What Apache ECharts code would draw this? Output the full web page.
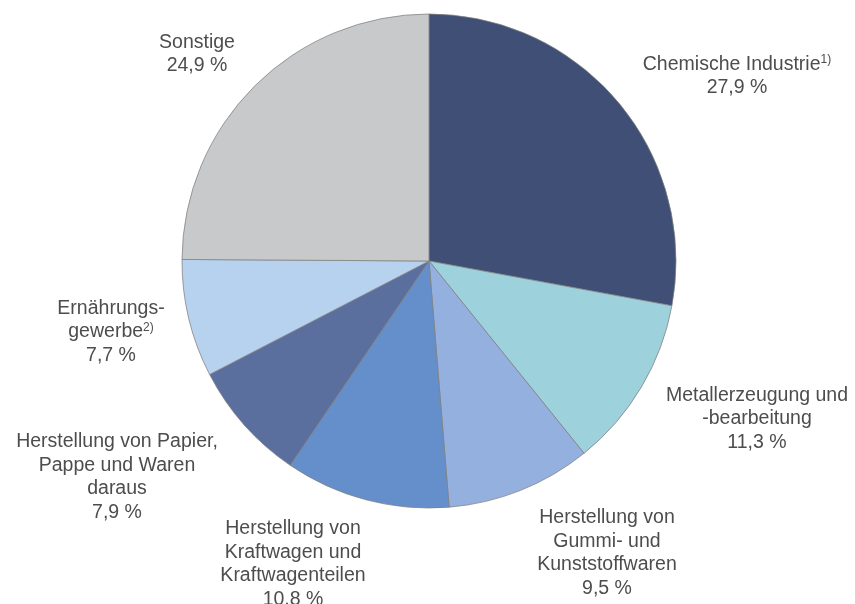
<!DOCTYPE html>
<html>
<head>
<meta charset="utf-8">
<script src="https://cdn.jsdelivr.net/npm/echarts@6/dist/echarts.min.js"></script>
<style>html,body{margin:0;padding:0;background:#fff}#c{width:855px;height:604px}</style>
</head>
<body>
<div id="c"></div>
<script>
const categories = [
  'Chemische Industrie{sup|1)}',
  'Metallerzeugung und\n-bearbeitung',
  'Herstellung von\nGummi- und\nKunststoffwaren',
  'Herstellung von\nKraftwagen und\nKraftwagenteilen',
  'Herstellung von Papier,\nPappe und Waren\ndaraus',
  'Ernährungs-\ngewerbe{sup|2)}',
  'Sonstige'
];
const values = [27.9, 11.3, 9.5, 10.8, 7.9, 7.7, 24.9];
const colors = ['#3f4f75', '#9dd1dc', '#93b0df', '#658fcb', '#5b6f9f', '#b7d2ee', '#c8c9cb'];
// label anchor points (centre of each text block)
const labelPos = [[737, 76], [757, 419], [607, 553], [293, 564], [117, 477], [111, 332], [197, 54]];

const chart = echarts.init(document.getElementById('c'), null, {renderer: 'canvas'});
chart.setOption({
  animation: false,
  series: [{
    type: 'pie',
    center: [429, 261],
    radius: 247,
    startAngle: 90,
    clockwise: true,
    avoidLabelOverlap: false,
    data: categories.map((n, i) => ({name: n, value: values[i], itemStyle: {color: colors[i]}})),
    itemStyle: {borderColor: '#7f7f7f', borderWidth: 0.75},
    label: {
      show: true,
      position: 'outside',
      alignTo: 'none',
      overflow: 'none',
      width: 400,
      fontFamily: 'Liberation Sans, Arial, sans-serif',
      fontSize: 19.5,
      lineHeight: 23.5,
      color: '#4d4d4d',
      align: 'center',
      formatter: p => p.name + '\n' + p.value.toFixed(1).replace('.', ',') + ' %',
      rich: {
        sup: {fontSize: 12, fontFamily: 'Liberation Sans, Arial, sans-serif', color: '#4d4d4d', padding: [0, 0, 9, 0]}
      }
    },
    labelLine: {show: false},
    labelLayout: p => ({
      x: labelPos[p.dataIndex][0],
      y: labelPos[p.dataIndex][1],
      align: 'center',
      verticalAlign: 'middle'
    }),
    emphasis: {disabled: true}
  }]
});
</script>
</body>
</html>
